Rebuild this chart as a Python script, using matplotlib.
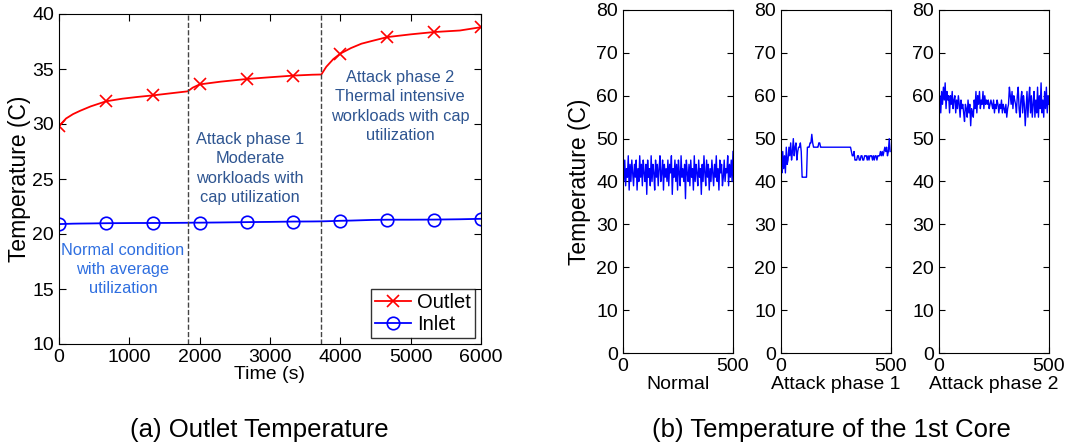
import numpy as np
import matplotlib
matplotlib.use('Agg')
import matplotlib.pyplot as plt

plt.rcParams['font.family'] = ['Liberation Sans', 'DejaVu Sans']

# (a) outlet / inlet temperature over time
time = [0, 100, 200, 300, 450, 667, 900, 1100, 1333, 1600, 1830, 1900, 2000, 2300,
        2667, 3000, 3333, 3600, 3730, 3800, 3900, 4000, 4150, 4300, 4450, 4667,
        5000, 5333, 5700, 6000]
outlet = [29.8, 30.5, 30.9, 31.2, 31.6, 32.06, 32.3, 32.45, 32.6, 32.8, 32.97, 33.3,
          33.6, 33.85, 34.09, 34.25, 34.4, 34.48, 34.5, 35.2, 35.9, 36.4, 36.9, 37.3,
          37.55, 37.9, 38.15, 38.36, 38.5, 38.8]
inlet = [20.9, 20.92, 20.94, 20.95, 20.96, 20.98, 20.99, 21.0, 21.0, 21.01, 21.02, 21.03,
         21.03, 21.05, 21.08, 21.1, 21.13, 21.14, 21.15, 21.16, 21.18, 21.2, 21.22, 21.25,
         21.28, 21.3, 21.3, 21.31, 21.34, 21.38]
marker_times = [0, 667, 1333, 2000, 2667, 3333, 4000, 4667, 5333, 6000]
phase_bounds = [1830, 3730]

# (b) core temperature samples (every 4 samples)
normal = [44, 40, 45, 39, 43, 41, 46, 38, 44, 40, 45, 42, 39, 44, 41, 45, 38, 43, 40, 46,
          41, 44, 39, 45, 42, 40, 44, 37, 45, 41, 43, 39, 46, 40, 44, 42, 38, 45, 41, 44,
          39, 43, 46, 40, 42, 45, 38, 44, 41, 43, 40, 45, 39, 44, 42, 46, 37, 43, 41, 45,
          40, 44, 38, 45, 42, 39, 46, 41, 43, 40, 44, 36, 45, 42, 40, 44, 39, 45, 41, 43,
          38, 46, 40, 44, 42, 39, 45, 41, 43, 37, 44, 40, 46, 42, 39, 45, 41, 44, 38, 43,
          40, 45, 42, 39, 44, 41, 46, 40, 43, 38, 45, 42, 44, 39, 41, 45, 40, 43, 42, 46,
          39, 44, 41, 45, 40, 47]
attack1 = [44, 42, 47, 43, 46, 42, 48, 44, 45, 48, 46, 49, 45, 47, 50, 46, 48, 49, 45, 47,
           48, 48, 49, 47, 41, 41, 41, 41, 41, 41, 48, 48, 48, 49, 49, 51, 49, 48, 48, 48,
           48, 48, 48, 49, 49, 48, 48, 48, 48, 48, 48, 48, 48, 48, 48, 48, 48, 48, 48, 48,
           48, 48, 48, 48, 48, 48, 48, 48, 48, 48, 48, 48, 48, 48, 48, 48, 48, 48, 48, 48,
           47, 46, 46, 47, 45, 45, 45, 46, 46, 45, 45, 46, 46, 45, 45, 46, 46, 46, 45, 46,
           45, 46, 46, 46, 45, 46, 45, 46, 46, 45, 46, 46, 46, 47, 46, 47, 46, 47, 48, 47,
           48, 46, 47, 50, 47]
attack2 = [57, 60, 56, 61, 58, 62, 59, 63, 57, 61, 59, 60, 56, 60, 58, 61, 57, 59, 60, 56,
           59, 57, 60, 58, 55, 59, 57, 58, 56, 54, 58, 57, 55, 59, 56, 58, 53, 57, 56, 55,
           59, 57, 61, 56, 60, 58, 61, 57, 59, 58, 61, 57, 60, 58, 59, 58, 59, 57, 58, 59,
           58, 57, 59, 56, 58, 57, 59, 58, 56, 58, 57, 59, 56, 58, 57, 56, 58, 55, 57, 58,
           62, 60, 58, 61, 57, 60, 59, 58, 56, 60, 62, 57, 55, 59, 61, 56, 60, 58, 53, 57,
           61, 55, 59, 62, 56, 60, 55, 58, 61, 55, 59, 56, 62, 55, 60, 57, 63, 56, 59, 55,
           61, 57, 62, 56, 60, 58]
core_series = [normal, attack1, attack2]
core_labels = ['Normal', 'Attack phase 1', 'Attack phase 2']

fig = plt.figure(figsize=(10.67, 4.46), dpi=100)

fs = 14
ax = fig.add_axes([59/1067, 1-344/446, 422/1067, 330/446])
idx_out = [time.index(m) for m in marker_times]
ax.plot(time, outlet, '-', color='red', marker='x', markevery=idx_out,
        markersize=9, markeredgewidth=1.2, lw=1.3, label='Outlet')
ax.plot(time, inlet, '-', color='blue', marker='o', markevery=idx_out,
        markersize=9, markerfacecolor='none', markeredgewidth=1.2, lw=1.3, label='Inlet')
for b in phase_bounds:
    ax.axvline(b, color='#444444', ls='--', lw=1)
ax.set_xlim(0, 6000)
ax.set_ylim(10, 40)
ax.set_xticks(range(0, 6001, 1000))
ax.set_yticks(range(10, 41, 5))
ax.tick_params(direction='in', top=True, right=True, labelsize=fs, length=5)
ax.set_xlabel('Time (s)', fontsize=fs, labelpad=0)
ax.set_ylabel('Temperature (C)', fontsize=16.5, labelpad=1)
ax.text(2713, 29.25, 'Attack phase 1\nModerate\nworkloads with\ncap utilization',
        ha='center', va='top', fontsize=11.8, color='#2e5591', linespacing=1.35)
ax.text(4848, 34.9, 'Attack phase 2\nThermal intensive\nworkloads with cap\nutilization',
        ha='center', va='top', fontsize=11.8, color='#2e5591', linespacing=1.35)
ax.text(910, 19.15, 'Normal condition\nwith average\nutilization',
        ha='center', va='top', fontsize=11.8, color='#2f6fe0', linespacing=1.3)
leg = ax.legend(loc='lower right', fontsize=14.5, frameon=True, fancybox=False,
                borderpad=0.2, handlelength=1.8, handletextpad=0.3, labelspacing=0.15,
                borderaxespad=0.3)
leg.get_frame().set_edgecolor('black')
leg.get_frame().set_linewidth(1)

lefts = [623, 781, 939]
for i, (vals, lab) in enumerate(zip(core_series, core_labels)):
    a = fig.add_axes([lefts[i]/1067, 1-353/446, 110/1067, 343/446])
    xs = np.arange(len(vals)) * 4
    a.plot(xs, vals, color='blue', lw=1)
    a.set_xlim(0, 500)
    a.set_ylim(0, 80)
    a.set_xticks([0, 500])
    a.set_yticks(range(0, 81, 10))
    a.tick_params(direction='in', right=True, labelsize=fs, length=4)
    a.set_xlabel(lab, fontsize=fs, labelpad=1)
    if i == 0:
        a.set_ylabel('Temperature (C)', fontsize=16.5)

fig.text(259/1067, 1-430/446, '(a) Outlet Temperature', ha='center', va='center', fontsize=18.5)
fig.text(831/1067, 1-430/446, '(b) Temperature of the 1st Core', ha='center', va='center',
         fontsize=18.5)

fig.savefig('out.png', dpi=100)
